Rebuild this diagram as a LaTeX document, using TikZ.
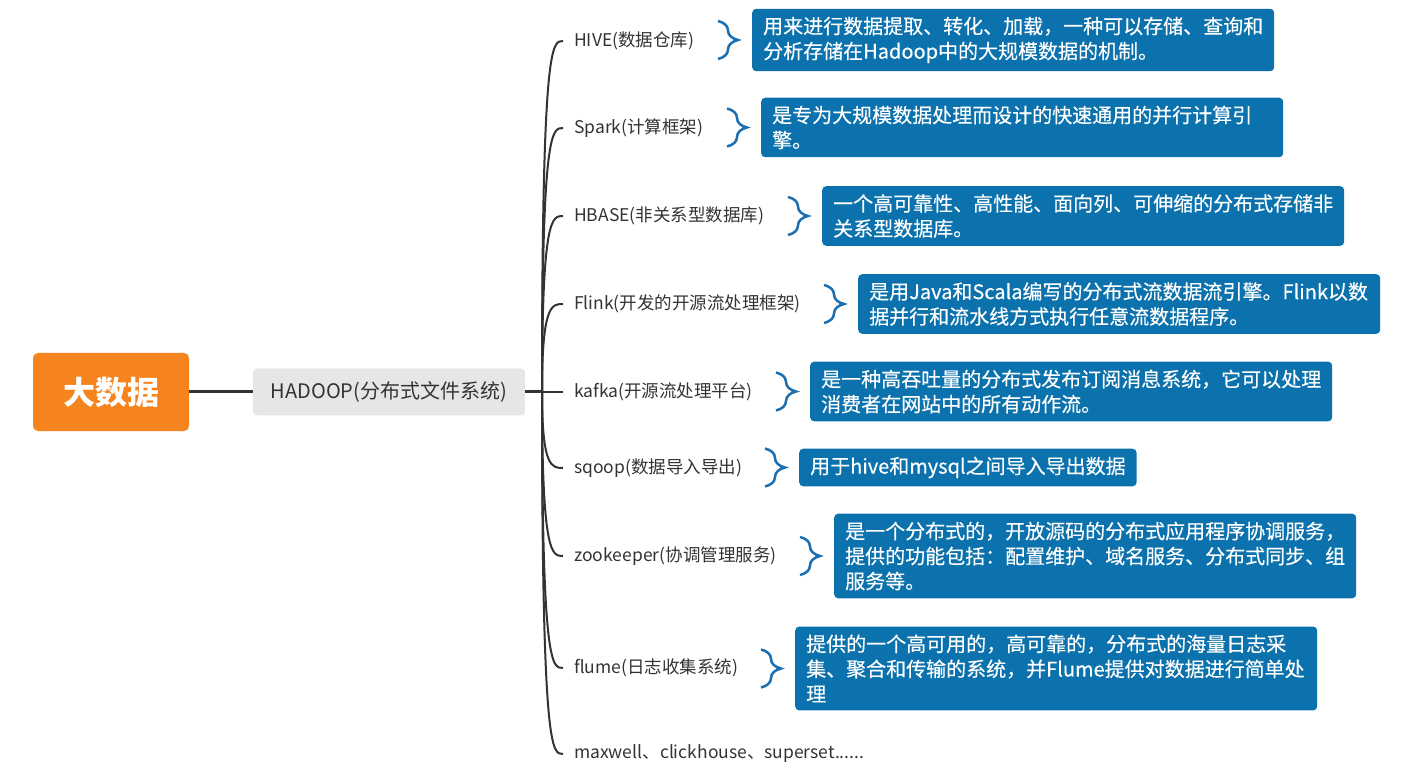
\documentclass[tikz,border=0pt]{standalone}
\usepackage{fontspec}
\setmainfont{Noto Sans CJK SC}
\newfontfamily\notefont[FakeBold=0.3]{Noto Sans CJK SC}
\usepackage{tikz}
\usetikzlibrary{calc,decorations.pathreplacing}
\definecolor{orng}{HTML}{F5841F}
\definecolor{ink}{HTML}{333333}
\definecolor{pale}{HTML}{E6E6E6}
\definecolor{sea}{HTML}{0B72AD}
\definecolor{curl}{HTML}{1B6FB0}
\tikzset{rootbox/.style={fill=orng,rounded corners=5pt,text=white,minimum width=156pt,minimum height=78pt,font=\fontsize{32}{36}\selectfont\bfseries},hub/.style={fill=pale,rounded corners=4pt,text=ink,minimum width=272pt,minimum height=47pt,font=\fontsize{20}{24}\selectfont},item/.style={anchor=west,inner xsep=11pt,inner ysep=2pt,text=ink,font=\fontsize{17.5}{20}\selectfont},note/.style={anchor=west,fill=sea,rounded corners=4pt,text=white,align=left,inner xsep=11pt,inner ysep=8pt,font=\notefont\fontsize{20}{25}\selectfont},wide/.style={text width=500pt},link/.style={draw=ink,line width=2pt},curlbrace/.style={draw=curl,line width=2.5pt,decorate,decoration={brace,amplitude=20pt}}}

\begin{document}
\begin{tikzpicture}[x=1pt,y=-1pt]
\useasboundingbox (0,0) rectangle (1419,775);
\node[rootbox] (big) at (111,392) {大数据};
\node[hub] (hadoop) at (389,392) {HADOOP(分布式文件系统)};
\coordinate (fork) at (542,392);
\draw[link,line width=3pt] (big) -- (hadoop);
\draw[link,line width=3pt] (hadoop) -- (fork);
% items
\node[item] (t1) at (563,41) {HIVE(数据仓库)};
\node[item] (t2) at (563,128) {Spark(计算框架)};
\node[item] (t3) at (563,216) {HBASE(非关系型数据库)};
\node[item] (t4) at (563,304) {Flink(开发的开源流处理框架)};
\node[item] (t5) at (563,392) {kafka(开源流处理平台)};
\node[item] (t6) at (563,468) {sqoop(数据导入导出)};
\node[item] (t7) at (563,556) {zookeeper(协调管理服务)};
\node[item] (t8) at (563,668) {flume(日志收集系统)};
\node[item] (t9) at (563,754) {maxwell、clickhouse、superset......};
\foreach \i in {1,...,9}{\draw[link] (fork) .. controls (fork |- t\i.west) and ($(t\i.west)+(-11,0)$) .. (t\i.west);}
% notes
\node[note,wide] (n1) at (752,40) {用来进行数据提取、转化、加载，一种可以存储、查询和\\分析存储在Hadoop中的大规模数据的机制。};
\node[note,wide] (n2) at (761,127.5) {是专为大规模数据处理而设计的快速通用的并行计算引\\擎。};
\node[note,wide] (n3) at (822,216) {一个高可靠性、高性能、面向列、可伸缩的分布式存储非\\关系型数据库。};
\node[note,wide] (n4) at (858,304) {是用Java和Scala编写的分布式流数据流引擎。Flink以数\\据并行和流水线方式执行任意流数据程序。};
\node[note,wide] (n5) at (810,391.5) {是一种高吞吐量的分布式发布订阅消息系统，它可以处理\\消费者在网站中的所有动作流。};
\node[note] (n6) at (799,467.5) {用于hive和mysql之间导入导出数据};
\node[note,wide] (n7) at (834,556) {是一个分布式的，开放源码的分布式应用程序协调服务，\\提供的功能包括：配置维护、域名服务、分布式同步、组\\服务等。};
\node[note,wide] (n8) at (795,668.5) {提供的一个高可用的，高可靠的，分布式的海量日志采\\集、聚合和传输的系统，并Flume提供对数据进行简单处\\理};
\foreach \i in {1,...,8}{\draw[curlbrace] ([xshift=-34pt,yshift=19pt]n\i.west) -- ([xshift=-34pt,yshift=-19pt]n\i.west);}
\end{tikzpicture}
\end{document}
